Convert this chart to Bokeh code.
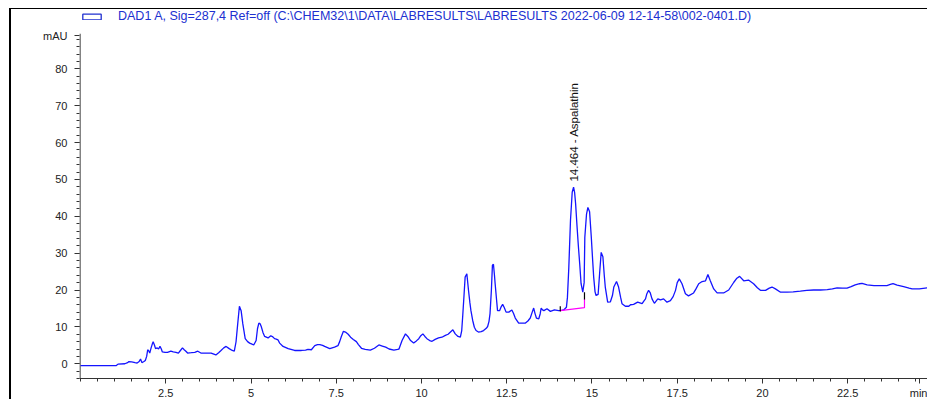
import math
from bokeh.plotting import figure
from bokeh.models import Range1d, FixedTicker, Label, Legend, LegendItem, InlineStyleSheet
from bokeh.embed import file_html
from bokeh.resources import INLINE

# ---- data ----
time_min = [0.0, 1.05, 1.1, 1.3, 1.38, 1.42, 1.5, 1.6, 1.66, 1.72, 1.76, 1.8, 1.86, 1.9, 1.94, 1.97, 2.0, 2.03,
            2.07, 2.1, 2.13, 2.17, 2.2, 2.25, 2.29, 2.33, 2.37, 2.4, 2.48, 2.55, 2.65, 2.72, 2.8, 2.87, 2.93, 2.99,
            3.04, 3.09, 3.14, 3.25, 3.35, 3.44, 3.53, 3.65, 3.83, 3.97, 4.05, 4.12, 4.2, 4.27, 4.36, 4.45, 4.51,
            4.56, 4.61, 4.66, 4.71, 4.76, 4.83, 4.9, 4.96, 5.03, 5.08, 5.15, 5.19, 5.23, 5.27, 5.3, 5.35, 5.4, 5.5,
            5.58, 5.64, 5.69, 5.74, 5.79, 5.84, 5.94, 6.09, 6.28, 6.48, 6.6, 6.67, 6.77, 6.87, 6.95, 7.02, 7.1,
            7.16, 7.31, 7.45, 7.55, 7.6, 7.65, 7.71, 7.77, 7.85, 7.92, 8.0, 8.09, 8.15, 8.24, 8.35, 8.5, 8.62,
            8.75, 8.85, 8.95, 9.05, 9.19, 9.3, 9.34, 9.43, 9.53, 9.6, 9.68, 9.77, 9.85, 9.92, 9.98, 10.04, 10.1,
            10.16, 10.24, 10.31, 10.4, 10.5, 10.6, 10.7, 10.78, 10.85, 10.92, 10.99, 11.07, 11.14, 11.18, 11.21,
            11.25, 11.28, 11.33, 11.38, 11.42, 11.45, 11.5, 11.55, 11.6, 11.67, 11.75, 11.82, 11.9, 11.94, 11.98,
            12.01, 12.05, 12.08, 12.11, 12.14, 12.16, 12.2, 12.23, 12.29, 12.34, 12.38, 12.43, 12.48, 12.56,
            12.65, 12.7, 12.75, 12.85, 12.95, 13.04, 13.12, 13.19, 13.24, 13.29, 13.33, 13.37, 13.44, 13.48,
            13.51, 13.55, 13.59, 13.68, 13.78, 13.9, 14.02, 14.1, 14.17, 14.25, 14.28, 14.32, 14.37, 14.42,
            14.46, 14.49, 14.52, 14.56, 14.6, 14.64, 14.68, 14.73, 14.77, 14.79, 14.84, 14.88, 14.93, 14.98,
            15.02, 15.05, 15.09, 15.12, 15.18, 15.23, 15.27, 15.32, 15.36, 15.39, 15.46, 15.54, 15.6, 15.64,
            15.72, 15.78, 15.84, 15.88, 15.98, 16.08, 16.13, 16.22, 16.34, 16.47, 16.52, 16.57, 16.61, 16.66,
            16.71, 16.76, 16.83, 16.93, 17.01, 17.1, 17.2, 17.3, 17.38, 17.45, 17.5, 17.56, 17.64, 17.74, 17.83,
            17.98, 18.05, 18.13, 18.23, 18.33, 18.4, 18.47, 18.57, 18.67, 18.86, 19.01, 19.16, 19.25, 19.33,
            19.45, 19.59, 19.74, 19.85, 19.94, 20.09, 20.2, 20.28, 20.38, 20.53, 20.72, 20.9, 21.11, 21.3, 21.5,
            21.7, 21.9, 22.05, 22.19, 22.35, 22.48, 22.6, 22.72, 22.85, 22.92, 23.07, 23.27, 23.45, 23.65,
            23.75, 23.83, 23.95, 24.14, 24.3, 24.39, 24.6, 24.84]
signal_mau = [-0.5, -0.5, -0.1, 0.0, 0.3, 0.6, 0.5, 0.3, 0.2, 0.6, 1.3, 0.3, 0.6, 0.9, 2.0, 3.8, 3.5, 2.9,
              4.3, 5.2, 6.0, 5.0, 4.1, 4.3, 4.0, 4.7, 4.0, 3.2, 3.1, 3.1, 3.4, 3.2, 3.1, 2.9, 3.6, 4.3,
              3.8, 3.4, 2.9, 3.0, 3.1, 3.4, 2.9, 2.9, 2.9, 2.4, 3.0, 3.6, 4.3, 4.7, 4.1, 3.6, 3.4,
              5.9, 10.8, 15.6, 14.4, 10.8, 6.8, 6.0, 5.6, 5.3, 5.1, 6.3, 9.5, 11.0, 10.8, 10.1, 8.5, 7.4, 7.0,
              7.6, 7.3, 6.8, 6.7, 6.5, 5.6, 4.7, 4.1, 3.6, 3.6, 3.7, 3.9, 3.8, 4.9, 5.2, 5.2, 5.0,
              4.7, 4.1, 4.5, 4.9, 6.0, 7.4, 8.8, 8.6, 8.0, 7.2, 6.6, 6.0, 5.2, 4.2, 3.9, 3.7, 4.2,
              5.1, 4.8, 4.5, 4.0, 3.7, 3.9, 4.0, 6.3, 8.1, 7.4, 6.3, 5.6, 6.2, 6.8, 7.6, 8.1, 7.4,
              6.8, 6.3, 6.1, 6.6, 7.0, 7.2, 7.7, 8.0, 8.6, 9.2, 8.1, 7.4, 7.2, 9.0, 13.1,
              19.0, 23.5, 24.4, 19.8, 16.5, 14.4, 11.8, 9.9, 9.0, 8.6, 8.7, 9.0, 9.6, 10.1, 11.5,
              13.6, 20.0, 26.7, 27.0, 24.0, 21.7, 17.5, 14.4, 14.4, 15.5, 16.1, 15.2, 14.0, 14.0,
              14.6, 13.6, 12.4, 11.0, 11.0, 11.0, 11.6, 12.4, 13.8, 15.1, 13.6, 12.4, 12.2, 13.5,
              15.1, 14.6, 14.4, 14.9, 14.2, 14.6, 14.4, 14.5, 14.6, 15.3, 18.0, 26.0, 39.0, 46.5,
              47.9, 46.5, 43.4, 37.5, 32.0, 27.1, 21.7, 19.4, 22.0, 34.3, 40.6, 42.4, 41.2, 34.3,
              28.0, 23.5, 19.5, 18.5, 18.8, 25.3, 30.2, 29.0, 24.0, 20.8, 16.7, 16.8, 18.5, 20.8,
              22.3, 20.8, 18.0, 16.3, 15.6, 15.6, 16.0, 16.1, 16.7, 16.3, 17.0, 17.6, 19.0, 19.9,
              19.2, 17.6, 16.4, 17.6, 17.3, 17.6, 16.7, 17.1, 18.2, 19.9, 22.0, 23.0, 21.7, 19.0, 18.4,
              19.2, 20.3, 21.7, 22.3, 22.5, 24.2, 22.5, 20.3, 19.2, 19.2, 20.0, 22.1, 23.2, 23.7,
              22.5, 22.7, 21.7, 20.6, 19.9, 19.9, 20.5, 20.8, 20.3, 19.4, 19.4, 19.5, 19.7, 19.9, 20.0,
              20.0, 20.1, 20.3, 20.6, 20.5, 20.5, 20.9, 21.4, 21.7, 21.8, 21.4, 21.2, 21.2, 21.2,
              21.5, 21.7, 21.3, 20.9, 20.5, 20.3, 20.3, 20.6]

# integration baseline of the annotated peak
baseline_t = [14.07, 14.78, 14.78]
baseline_v = [14.4, 15.2, 17.6]
marker_start_t = [14.07, 14.07]
marker_start_v = [14.2, 15.6]
marker_end_t = [14.78, 14.78]
marker_end_v = [17.4, 19.4]

peak_time = 14.464
peak_label = "14.464 - Aspalathin"
peak_label_y = 49.4

x_major = [2.5, 5, 7.5, 10, 12.5, 15, 17.5, 20, 22.5, 24.62]
x_overrides = {24.62: "min"}
x_minor = [i * 0.5 for i in range(0, 50)]
y_major = [0, 10, 20, 30, 40, 50, 60, 70, 80, 89]
y_minor = list(range(-4, 90, 2))
y_overrides = {89: "mAU"}

# axis extents (the y axis stops at the top of the mAU scale; the space above holds the signal legend)
X_START, X_END = -0.03, 24.84
Y_START, Y_END = -4.0, 96.07
Y_AXIS_TOP = 89.5

signal_title = "DAD1 A, Sig=287,4 Ref=off (C:\\CHEM32\\1\\DATA\\LABRESULTS\\LABRESULTS 2022-06-09 12-14-58\\002-0401.D)"

BLUE = "#1414ff"
LEG_BLUE = "#2030d0"
AXIS = "#333333"
FONT = "Liberation Sans"

border_css = InlineStyleSheet(css=":host { margin-left: 9px; margin-top: 8px; "
                                  "border-left: 2px solid #000; border-top: 1px solid #000; }")

p = figure(frame_width=848, frame_height=369,
           min_border_left=68, min_border_right=0, min_border_top=0, min_border_bottom=0,
           x_range=Range1d(X_START, X_END), y_range=Range1d(Y_START, Y_END),
           output_backend="svg", toolbar_location=None, stylesheets=[border_css])
p.xgrid.grid_line_color = None
p.ygrid.grid_line_color = None
p.outline_line_color = None
p.background_fill_color = "white"
p.border_fill_color = "white"

# y axis line, drawn only over the mAU scale
axis_x = X_START / 2
p.line([axis_x, axis_x], [Y_START, Y_AXIS_TOP], line_color=AXIS, line_width=1.2)

p.line(time_min, signal_mau, line_color=BLUE, line_width=1.3)
p.line(baseline_t, baseline_v, line_color="#ff00ff", line_width=1.2)
p.line(marker_start_t, marker_start_v, line_color="#000000", line_width=1.2)
p.line(marker_end_t, marker_end_v, line_color="#000000", line_width=1.2)

# legend entry (outlined rectangle + signal description); the swatch renderer sits off-range
swatch = p.quad(left=[X_START - 2], right=[X_START - 1], top=[Y_START - 2], bottom=[Y_START - 3],
                fill_alpha=0, line_color=LEG_BLUE, line_width=1.3)
legend = Legend(items=[LegendItem(label=signal_title, renderers=[swatch])],
                location=(1, 355), orientation="horizontal",
                glyph_width=23, glyph_height=7, label_standoff=15,
                padding=0, margin=0, spacing=0,
                border_line_color=None, background_fill_alpha=0,
                label_text_font=FONT, label_text_font_size="12.5px",
                label_text_color=LEG_BLUE, label_height=12)
p.add_layout(legend)

p.add_layout(Label(x=peak_time, y=peak_label_y, text=peak_label, angle=math.pi / 2,
                   text_align="left", text_baseline="middle",
                   text_font=FONT, text_font_size="11.5px", text_color="#111111"))

for ax in (p.xaxis[0], p.yaxis[0]):
    ax.axis_line_color = AXIS
    ax.axis_line_width = 1.2
    ax.major_tick_line_color = AXIS
    ax.minor_tick_line_color = AXIS
    ax.major_tick_in = 0
    ax.minor_tick_in = 0
    ax.major_tick_out = 5
    ax.minor_tick_out = 3
    ax.major_label_text_font = FONT
    ax.major_label_text_font_size = "11px"
    ax.major_label_text_color = "#222222"
p.yaxis.axis_line_color = None

p.xaxis.ticker = FixedTicker(ticks=x_major, minor_ticks=x_minor)
p.xaxis.major_label_overrides = x_overrides
p.xaxis.major_label_standoff = 3
p.yaxis.ticker = FixedTicker(ticks=y_major, minor_ticks=y_minor)
p.yaxis.major_label_overrides = y_overrides
p.yaxis.major_label_standoff = 7

open("out.html", "w").write(file_html(p, INLINE))
